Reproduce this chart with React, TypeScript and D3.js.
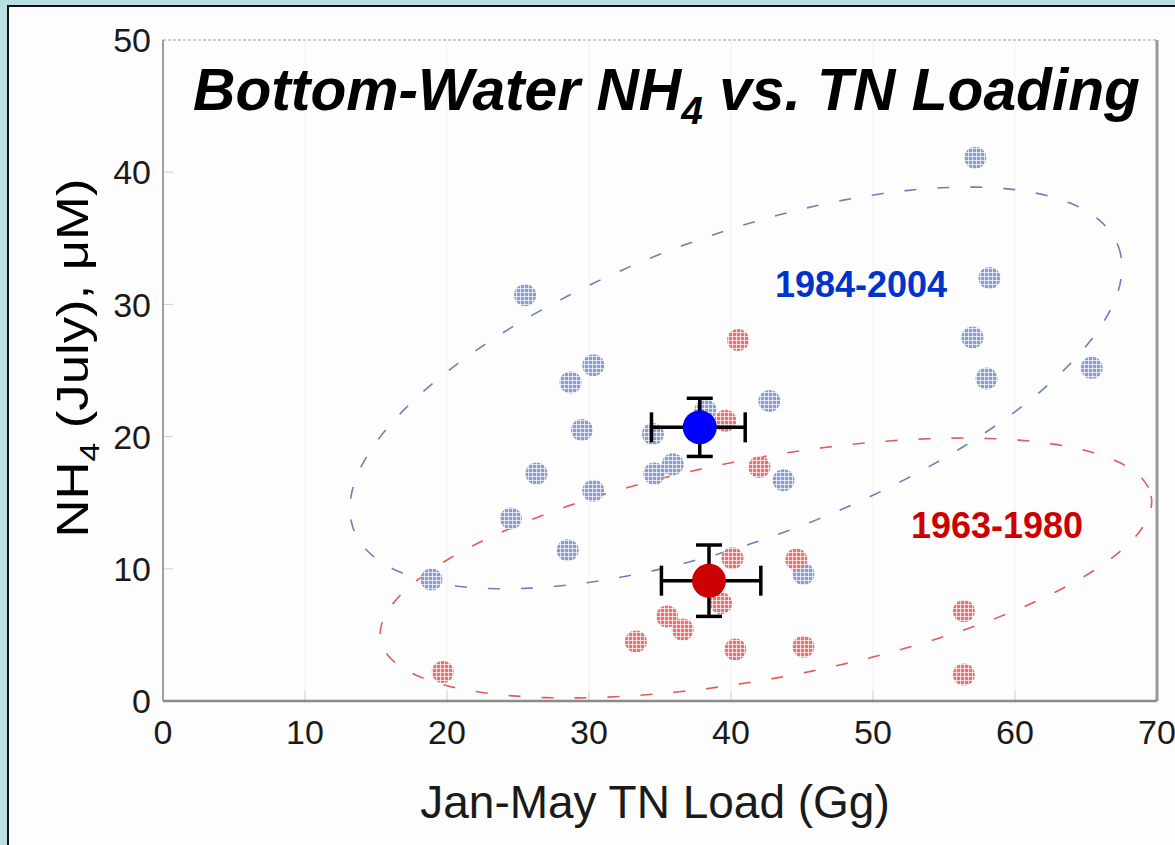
import React from "react";
import * as d3 from "d3";

// Jan-May TN load (Gg) vs. July bottom-water NH4 (µM), two periods
const xTicks = [0, 10, 20, 30, 40, 50, 60, 70];
const yTicks = [0, 10, 20, 30, 40, 50];

const recentLoad = [25.5, 28.7, 30.3, 29.5, 26.3, 24.5, 28.5, 30.3, 34.5, 34.6, 35.9, 42.7, 43.7, 18.9, 45.1, 57.2, 58.2, 57.0, 58.0, 65.4, 38.2];
const recentNH4 = [30.7, 24.1, 25.4, 20.5, 17.2, 13.8, 11.4, 15.9, 20.2, 17.2, 17.9, 22.7, 16.7, 9.2, 9.6, 41.1, 32.0, 27.5, 24.4, 25.2, 22.0];

const earlyLoad = [40.5, 39.6, 42.0, 40.1, 44.6, 39.3, 35.5, 36.6, 33.3, 40.3, 45.1, 19.7, 56.4, 56.4];
const earlyNH4 = [27.3, 21.2, 17.7, 10.8, 10.7, 7.4, 6.4, 5.4, 4.5, 3.9, 4.1, 2.2, 6.8, 2.0];

// period means with error bars: [x, y, xLo, xHi, yLo, yHi]
const recentMean = [37.8, 20.7, 34.4, 41.0, 18.5, 22.9];
const earlyMean = [38.45, 9.1, 35.1, 42.1, 6.4, 11.8];

// envelope ellipses: centre, two conjugate semi-diameters (data units)
const recentEnvelope = [40.35, 23.68, 26.93, 10.7, 3.71, -10.79];
const earlyEnvelope = [42.46, 10.06, 27.13, 5.45, 1.42, -8.18];

const W = 1175;
const H = 845;

const x = d3.scaleLinear().domain([0, 70]).range([163, 1157]);
const y = d3.scaleLinear().domain([0, 50]).range([701, 40]);

function envelopePath(e: number[]) {
  const [cx, cy, ax, ay, bx, by] = e;
  const ts = d3.range(0, 2 * Math.PI, Math.PI / 90);
  const line = d3
    .line<number>()
    .x((t) => x(cx + ax * Math.cos(t) + bx * Math.sin(t)))
    .y((t) => y(cy + ay * Math.cos(t) + by * Math.sin(t)))
    .curve(d3.curveLinearClosed);
  return line(ts) || "";
}

function MeanMarker({ m, color }: { m: number[]; color: string }) {
  const [mx, my, xLo, xHi, yLo, yHi] = m;
  const cx = x(mx);
  const cy = y(my);
  const capH = 15;
  const capV = 13;
  return (
    <g stroke="#000" strokeWidth={3.5}>
      <line x1={x(xLo)} x2={x(xHi)} y1={cy} y2={cy} />
      <line x1={x(xLo)} x2={x(xLo)} y1={cy - capH} y2={cy + capH} />
      <line x1={x(xHi)} x2={x(xHi)} y1={cy - capH} y2={cy + capH} />
      <line x1={cx} x2={cx} y1={y(yLo)} y2={y(yHi)} />
      <line x1={cx - capV} x2={cx + capV} y1={y(yLo)} y2={y(yLo)} />
      <line x1={cx - capV} x2={cx + capV} y1={y(yHi)} y2={y(yHi)} />
      <circle cx={cx} cy={cy} r={17} fill={color} stroke="none" />
    </g>
  );
}

export default function App() {
  const font = "Arial, 'Liberation Sans', Helvetica, sans-serif";
  const recent = d3.zip(recentLoad, recentNH4);
  const early = d3.zip(earlyLoad, earlyNH4);
  return (
    <div style={{ position: "fixed", left: 0, top: 0 }}>
      <svg width={W} height={H} style={{ display: "block" }} fontFamily={font}>
        <defs>
          <pattern id="dotsBlue" width={4} height={4} patternUnits="userSpaceOnUse">
            <rect width={4} height={4} fill="#8b9cd2" />
            <rect width={4} height={1} fill="#ffffff" opacity={0.7} />
            <rect width={1} height={4} fill="#ffffff" opacity={0.7} />
          </pattern>
          <pattern id="dotsRed" width={4} height={4} patternUnits="userSpaceOnUse">
            <rect width={4} height={4} fill="#ea7272" />
            <rect width={4} height={1} fill="#ffffff" opacity={0.7} />
            <rect width={1} height={4} fill="#ffffff" opacity={0.7} />
          </pattern>
          <clipPath id="plotClip">
            <rect x={x(0)} y={y(50)} width={x(70) - x(0)} height={y(0) - y(50)} />
          </clipPath>
        </defs>

        {/* slide frame */}
        <rect x={0} y={0} width={W} height={H} fill="#b8dfe2" />
        <rect x={8} y={6} width={W} height={H} fill="#fdfdfd" stroke="#111" strokeWidth={2} />

        {/* faint gridlines */}
        <g stroke="#f1f1f1" strokeWidth={1}>
          {xTicks.slice(1, -1).map((t) => (
            <line key={"gx" + t} x1={x(t)} x2={x(t)} y1={y(50)} y2={y(0)} />
          ))}
        </g>
        <g stroke="#cfcfcf" strokeWidth={1}>
          {yTicks.slice(1, -1).map((t) => (
            <line key={"ty" + t} x1={x(0)} x2={x(0) + 10} y1={y(t)} y2={y(t)} />
          ))}
          {xTicks.slice(1, -1).map((t) => (
            <line key={"tx" + t} x1={x(t)} x2={x(t)} y1={y(0)} y2={y(0) - 10} />
          ))}
        </g>

        {/* plot frame */}
        <line x1={x(0)} x2={x(70)} y1={y(50)} y2={y(50)} stroke="#bdbdbd" strokeWidth={1.5} strokeDasharray="3 2" />
        <line x1={x(70)} x2={x(70)} y1={y(50)} y2={y(0)} stroke="#999" strokeWidth={3} />
        <line x1={x(0)} x2={x(0)} y1={y(50)} y2={y(0)} stroke="#a0a0a0" strokeWidth={2} />

        {/* envelopes */}
        <g clipPath="url(#plotClip)" fill="none" strokeWidth={1.6} strokeDasharray="12 21">
          <path d={envelopePath(recentEnvelope)} stroke="#6a80bf" />
          <path d={envelopePath(earlyEnvelope)} stroke="#e25a5a" />
        </g>

        {/* annual points */}
        <g>
          {recent.map(([a, b], i) => (
            <circle key={"r" + i} cx={x(a)} cy={y(b)} r={11} fill="url(#dotsBlue)" />
          ))}
          {early.map(([a, b], i) => (
            <circle key={"e" + i} cx={x(a)} cy={y(b)} r={11} fill="url(#dotsRed)" />
          ))}
        </g>

        <line x1={x(0)} x2={x(70)} y1={y(0)} y2={y(0)} stroke="#8a8a8a" strokeWidth={2.5} />

        <MeanMarker m={earlyMean} color="#cc0000" />
        <MeanMarker m={recentMean} color="#0000ff" />

        {/* tick labels */}
        <g fontSize={34} fill="#1a1a1a">
          {yTicks.map((t) => (
            <text key={"yl" + t} x={x(0) - 12} y={y(t)} dy="0.36em" textAnchor="end">
              {t}
            </text>
          ))}
          {xTicks.map((t) => (
            <text key={"xl" + t} x={x(t)} y={y(0) + 43} textAnchor="middle">
              {t}
            </text>
          ))}
        </g>

        {/* axis titles */}
        <text x={655} y={818} fontSize={46} textAnchor="middle" fill="#1a1a1a">
          Jan-May TN Load (Gg)
        </text>
        <text
          transform="translate(88,358) rotate(-90)"
          fontSize={44}
          textAnchor="middle"
          fill="#000"
          textLength={359}
          lengthAdjust="spacingAndGlyphs"
        >
          NH<tspan fontSize={28} dy={11}>4</tspan>
          <tspan dy={-11}> (July), μM)</tspan>
        </text>

        {/* chart title */}
        <text x={193} y={110} fontSize={59} fontWeight="bold" fontStyle="italic" fill="#000" textLength={947} lengthAdjust="spacingAndGlyphs">
          Bottom-Water NH<tspan fontSize={39} dy={14}>4</tspan>
          <tspan dy={-14}> vs. TN Loading</tspan>
        </text>

        {/* period labels */}
        <text x={861} y={297} fontSize={36} fontWeight="bold" fill="#0033cc" textAnchor="middle">
          1984-2004
        </text>
        <text x={997} y={538} fontSize={36} fontWeight="bold" fill="#cc0000" textAnchor="middle">
          1963-1980
        </text>
      </svg>
    </div>
  );
}
